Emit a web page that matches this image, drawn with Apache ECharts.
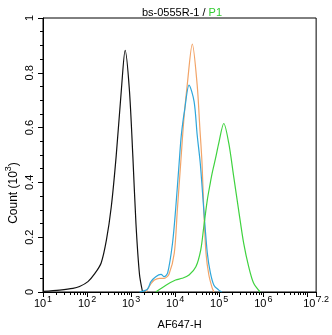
<!DOCTYPE html>
<html><head><meta charset="utf-8">
<script src="https://cdn.jsdelivr.net/npm/echarts@6/dist/echarts.min.js"></script>
<style>html,body{margin:0;padding:0;background:#fff}#c{width:332px;height:335px}</style>
</head><body><div id="c"></div>
<script>
// x values are log10(AF647-H), y values are Count in thousands
const xTickExponents = [1, 2, 3, 4, 5, 6, 7.2];
const yTickLabels = ['0', '0.2', '0.4', '0.6', '0.8', '1'];
const minorMultipliers = [2, 3, 4, 5, 6, 7, 8, 9];
const minorDecades = [1, 2, 3, 4, 5, 6];

const blackData = [[1.0,0.002],[1.38,0.007],[1.68,0.013],[1.83,0.02],[2.02,0.038],[2.17,0.066],[2.32,0.106],[2.44,0.19],[2.55,0.311],[2.66,0.494],[2.78,0.74],[2.865,0.882],[2.96,0.74],[3.04,0.494],[3.11,0.25],[3.19,0.065],[3.26,0.0]];
const orangeData = [[3.34,0.0],[3.45,0.03],[3.53,0.044],[3.64,0.05],[3.75,0.05],[3.86,0.065],[3.98,0.142],[4.05,0.30],[4.13,0.48],[4.20,0.635],[4.28,0.765],[4.389,0.905],[4.50,0.755],[4.56,0.60],[4.61,0.47],[4.65,0.30],[4.70,0.142],[4.765,0.062],[4.84,0.015],[4.88,0.0]];
const blueData = [[3.19,0.0],[3.37,0.01],[3.45,0.038],[3.56,0.056],[3.68,0.064],[3.75,0.056],[3.83,0.07],[3.94,0.178],[4.01,0.30],[4.09,0.47],[4.14,0.573],[4.22,0.67],[4.315,0.755],[4.43,0.695],[4.50,0.573],[4.57,0.47],[4.65,0.30],[4.73,0.142],[4.80,0.07],[4.88,0.025],[4.99,0.007],[5.06,0.0]];
const greenData = [[3.56,0.0],[3.79,0.025],[4.01,0.044],[4.16,0.05],[4.315,0.062],[4.47,0.092],[4.58,0.153],[4.65,0.238],[4.73,0.336],[4.80,0.40],[4.84,0.434],[4.92,0.49],[4.99,0.543],[5.104,0.615],[5.217,0.543],[5.33,0.42],[5.44,0.30],[5.555,0.178],[5.67,0.092],[5.78,0.033],[5.93,0.0]];

const minorTicks = [];
minorDecades.forEach(d => minorMultipliers.forEach(m => minorTicks.push([d + Math.log10(m), 0])));

const FONT = 'Liberation Sans, Arial, sans-serif';
const chart = echarts.init(document.getElementById('c'), null, {renderer: 'canvas'});

function xLabel(v) {
  const e = xTickExponents.find(t => Math.abs(t - v) < 1e-6);
  if (e === undefined) return '';
  return '{b|10}{s|' + e + '}';
}

function line(data, color) {
  return {type: 'line', data: data, showSymbol: false, smooth: 0.3,
    lineStyle: {color: color, width: 1.2}, itemStyle: {color: color}, silent: true};
}

chart.setOption({
  animation: false,
  backgroundColor: '#fff',
  title: {
    text: '{a|bs-0555R-1 / }{g|P1}', left: 177, top: 2, textAlign: 'center',
    textStyle: {fontWeight: 'normal', rich: {
      a: {fontFamily: FONT, fontSize: 11, fontWeight: 'normal', color: '#000'},
      g: {fontFamily: FONT, fontSize: 11, fontWeight: 'normal', color: '#33cc33'}
    }}
  },
  grid: {left: 43, right: 14, top: 18, bottom: 43, show: true, borderColor: '#000', borderWidth: 1, backgroundColor: 'transparent'},
  xAxis: {
    type: 'value', min: 1, max: 7.2, interval: 1,
    name: 'AF647-H', nameLocation: 'middle', nameGap: 27,
    nameTextStyle: {fontFamily: FONT, fontSize: 11, color: '#000'},
    axisLine: {show: true, lineStyle: {color: '#000', width: 1}},
    axisTick: {show: true, inside: false, length: 5, lineStyle: {color: '#000'}},
    splitLine: {show: false},
    axisLabel: {
      margin: 3, formatter: xLabel, showMaxLabel: true, showMinLabel: true,
      rich: {
        b: {fontFamily: FONT, fontSize: 11, color: '#000', lineHeight: 14, verticalAlign: 'bottom'},
        s: {fontFamily: FONT, fontSize: 9, color: '#000', lineHeight: 14, verticalAlign: 'top', padding: [0,0,0,1]}
      }
    }
  },
  yAxis: {
    type: 'value', min: 0, max: 1, interval: 0.2,
    axisLine: {show: true, lineStyle: {color: '#000', width: 1}},
    axisTick: {show: true, inside: false, length: 5, lineStyle: {color: '#000'}},
    minorTick: {show: true, splitNumber: 4, length: 3, lineStyle: {color: '#000'}},
    splitLine: {show: false},
    axisLabel: {
      rotate: 90, margin: 8, fontFamily: FONT, fontSize: 11, color: '#000',
      formatter: v => yTickLabels[Math.round(v / 0.2)]
    }
  },
  graphic: [{
    type: 'text', x: 12, y: 193, rotation: Math.PI / 2,
    style: {
      text: '{a|Count (10}{s|3}{a|)}', align: 'center', verticalAlign: 'middle',
      rich: {
        a: {fontFamily: FONT, fontSize: 12, fill: '#000', color: '#000', lineHeight: 15, verticalAlign: 'bottom'},
        s: {fontFamily: FONT, fontSize: 9, fill: '#000', color: '#000', lineHeight: 15, verticalAlign: 'top'}
      }
    }
  }],
  series: [
    line(blackData, '#111111'),
    line(orangeData, '#f2a468'),
    line(blueData, '#2ea6da'),
    line(greenData, '#3fd23f'),
    {
      type: 'custom', coordinateSystem: 'cartesian2d', clip: false, silent: true,
      data: minorTicks,
      renderItem: function (params, api) {
        const p = api.coord([api.value(0), 0]);
        const x = Math.round(p[0]) + 0.5;
        return {type: 'line', shape: {x1: x, y1: p[1], x2: x, y2: p[1] + 3},
          style: {stroke: '#000', lineWidth: 1}};
      }
    }
  ]
});
</script>
</body></html>
